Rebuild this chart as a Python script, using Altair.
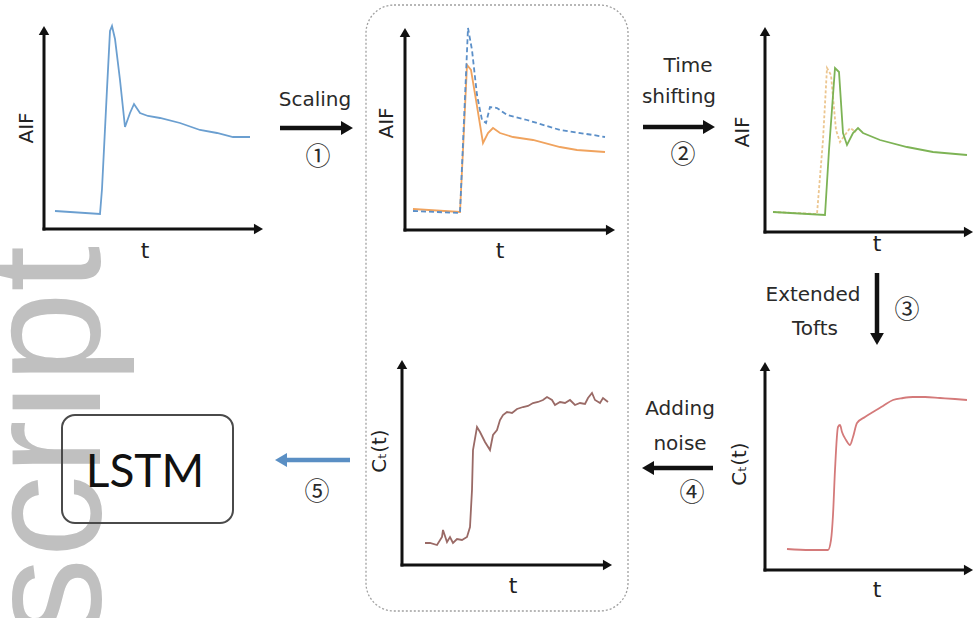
import altair as alt
import pandas as pd

W, H = 976, 618

# ---------------- curve readings (t, value) in each panel's own axis units ----------------
# panel 1: AIF (blue)
p1_t = [11, 56, 58, 60, 63, 66, 68, 71, 76, 81, 86, 90, 96, 104, 116, 136, 156, 173, 189, 206]
p1_v = [18, 15, 40, 80, 140, 198, 203, 190, 149, 102, 116, 125, 116, 113, 111, 106, 99, 96, 92, 92]

# panel 2: scaled AIF (orange) and original AIF (blue dashed)
p2o_t = [8, 55, 58, 62, 66, 71, 78, 83, 88, 95, 108, 128, 155, 172, 200]
p2o_v = [21, 18, 80, 165, 160, 130, 87, 97, 102, 97, 93, 90, 83, 80, 78]
p2b_t = [8, 55, 59, 63, 67, 72, 77, 81, 85, 92, 102, 122, 155, 188, 200]
p2b_v = [19, 17, 110, 202, 180, 135, 110, 107, 123, 122, 115, 110, 100, 95, 93]

# panel 3: time-shifted AIF (green) and unshifted AIF (dashed)
p3g_t = [8, 60, 64, 70, 74, 78, 82, 88, 93, 98, 115, 142, 168, 202]
p3g_v = [20, 17, 82, 164, 160, 99, 87, 99, 104, 99, 92, 85, 80, 77]
p3d_t = [8, 52, 58, 62, 66, 71, 75, 80, 85, 91]
p3d_v = [20, 18, 92, 164, 157, 102, 90, 97, 104, 100]

# panel 4: tissue curve from Extended Tofts (red)
p4_t = [22, 45, 63, 66, 68, 70, 73, 75, 77, 81, 85, 88, 92, 100, 108, 118, 128, 138, 148, 160, 175, 190, 202]
p4_v = [21, 20, 20, 30, 55, 100, 143, 145, 138, 130, 125, 133, 147, 153, 158, 164, 170, 172, 173, 173, 172, 171, 170]

# panel 5: tissue curve with noise (brown)
p5_t = [23, 28, 35, 40, 41, 45, 48, 51, 55, 60, 65, 68, 70, 71, 75, 78, 83, 88, 91, 95, 98, 101,
        105, 110, 115, 121, 126, 131, 136, 141, 145, 150, 153, 158, 163, 168, 173, 178, 183, 186,
        190, 193, 198, 201, 206]
p5_v = [22, 22, 20, 28, 35, 23, 28, 22, 26, 25, 28, 38, 75, 115, 138, 133, 123, 115, 130, 135, 145, 150,
        153, 152, 156, 158, 159, 162, 163, 165, 168, 165, 160, 163, 162, 165, 160, 162, 161, 167,
        172, 165, 162, 167, 163]

# ---------------- layout of panels: origin x, origin y, y-axis tip, x-axis tip ----------------
frames = {
    "p1": (44, 229, 26, 263),
    "p2": (405, 230, 28, 615),
    "p3": (765, 232, 27, 973),
    "p4": (765, 570, 362, 973),
    "p5": (402, 565, 360, 612),
}

series = [
    ("p1", p1_t, p1_v, "#6b9fd0", None),
    ("p2", p2o_t, p2o_v, "#f0a35e", None),
    ("p2", p2b_t, p2b_v, "#5b8fc8", [5, 3]),
    ("p3", p3d_t, p3d_v, "#ecc690", [3, 2]),
    ("p3", p3g_t, p3g_v, "#7db355", None),
    ("p4", p4_t, p4_v, "#d47a7a", None),
    ("p5", p5_t, p5_v, "#9a6a66", None),
]

XS = alt.Scale(domain=[0, W], range=[0, W], nice=False, zero=False)
YS = alt.Scale(domain=[0, H], range=[0, H], nice=False, zero=False)


def xy(**kw):
    enc = dict(
        x=alt.X("x:Q", scale=XS, axis=None),
        y=alt.Y("y:Q", scale=YS, axis=None),
    )
    enc.update(kw)
    return enc


layers = []

# watermark
wm = pd.DataFrame({"x": [100], "y": [246], "text": ["script"]})
layers.append(
    alt.Chart(wm).mark_text(angle=270, align="right", baseline="alphabetic", fontSize=165,
                            font="Liberation Sans", color="#c0c0c0")
    .encode(**xy(text="text:N"))
)

# dashed rounded group box and LSTM box
boxes = pd.DataFrame({"x": [366], "x2": [628], "y": [5], "y2": [611]})
layers.append(
    alt.Chart(boxes).mark_rect(cornerRadius=28, fillOpacity=0, stroke="#a0a0a0",
                               strokeDash=[2, 2], strokeWidth=1.3)
    .encode(**xy(x2="x2:Q", y2="y2:Q"))
)
lstm_box = pd.DataFrame({"x": [62], "x2": [233], "y": [415], "y2": [523]})
layers.append(
    alt.Chart(lstm_box).mark_rect(cornerRadius=13, fillOpacity=0, stroke="#4a4a4a", strokeWidth=2)
    .encode(**xy(x2="x2:Q", y2="y2:Q"))
)

# curves
for k, (p, ts, vs, col, dash) in enumerate(series):
    ox, oy, _, _ = frames[p]
    df = pd.DataFrame({"x": [ox + t for t in ts], "y": [oy - v for v in vs], "i": range(len(ts))})
    kw = dict(color=col, strokeWidth=1.8)
    if dash:
        kw["strokeDash"] = dash
    if p == "p4":
        kw["interpolate"] = "monotone"
    layers.append(alt.Chart(df).mark_line(**kw).encode(**xy(order="i:Q")))

# axes
ax_rows, heads = [], []
for p, (ox, oy, top, right) in frames.items():
    ax_rows.append({"x": ox, "x2": ox, "y": oy + 1.5, "y2": top + 6})
    ax_rows.append({"x": ox - 1.5, "x2": right - 6, "y": oy, "y2": oy})
    heads.append({"x": ox, "y": top + 4.5, "shape": "triangle-up"})
    heads.append({"x": right - 4.5, "y": oy, "shape": "triangle-right"})
layers.append(
    alt.Chart(pd.DataFrame(ax_rows)).mark_rule(color="#111111", strokeWidth=3)
    .encode(**xy(x2="x2:Q", y2="y2:Q"))
)
layers.append(
    alt.Chart(pd.DataFrame(heads)).mark_point(filled=True, size=110, color="#111111", opacity=1)
    .encode(**xy(shape=alt.Shape("shape:N", scale=None)))
)

# process arrows
arrows = pd.DataFrame([
    {"x": 280, "x2": 346, "y": 128, "y2": 128, "c": "#111111"},
    {"x": 643, "x2": 708, "y": 127, "y2": 127, "c": "#111111"},
    {"x": 877, "x2": 877, "y": 273, "y2": 338, "c": "#111111"},
    {"x": 713, "x2": 649, "y": 468, "y2": 468, "c": "#111111"},
    {"x": 350, "x2": 282, "y": 460, "y2": 460, "c": "#5a8fc4"},
])
arrow_heads = pd.DataFrame([
    {"x": 347, "y": 128, "shape": "triangle-right", "c": "#111111"},
    {"x": 709, "y": 127, "shape": "triangle-right", "c": "#111111"},
    {"x": 877, "y": 339, "shape": "triangle-down", "c": "#111111"},
    {"x": 648, "y": 468, "shape": "triangle-left", "c": "#111111"},
    {"x": 281, "y": 460, "shape": "triangle-left", "c": "#5a8fc4"},
])
layers.append(
    alt.Chart(arrows).mark_rule(strokeWidth=4.5)
    .encode(**xy(x2="x2:Q", y2="y2:Q", color=alt.Color("c:N", scale=None)))
)
layers.append(
    alt.Chart(arrow_heads).mark_point(filled=True, size=190, opacity=1)
    .encode(**xy(shape=alt.Shape("shape:N", scale=None), color=alt.Color("c:N", scale=None)))
)

# step labels
step_text = ["Scaling", "Time", "shifting", "Extended", "Tofts", "Adding", "noise"]
step_x = [315, 688, 679, 813, 815, 680, 680]
step_y = [106, 72, 103, 301, 335, 415, 450]
layers.append(
    alt.Chart(pd.DataFrame({"x": step_x, "y": step_y, "text": step_text}))
    .mark_text(font="DejaVu Sans", fontSize=20, color="#2a2a2a", align="center", baseline="alphabetic")
    .encode(**xy(text="text:N"))
)

# circled step numbers
num_text = ["①", "②", "③", "④", "⑤"]
num_x = [318, 683, 907, 692, 317]
num_y = [157, 155, 310, 493, 492]
layers.append(
    alt.Chart(pd.DataFrame({"x": num_x, "y": num_y, "text": num_text}))
    .mark_text(font="Noto Sans CJK JP", fontSize=25, color="#2a2a2a", align="center", baseline="middle")
    .encode(**xy(text="text:N"))
)

# axis titles
t_x = [145, 500, 877, 877, 513]
t_y = [258, 258, 251, 597, 593]
layers.append(
    alt.Chart(pd.DataFrame({"x": t_x, "y": t_y, "text": ["t"] * 5}))
    .mark_text(font="DejaVu Sans", fontSize=22, color="#222222", align="center", baseline="alphabetic")
    .encode(**xy(text="text:N"))
)
ylab_text = ["AIF", "AIF", "AIF", "Cₜ(t)", "Cₜ(t)"]
ylab_x = [27, 387, 743, 740, 380]
ylab_y = [128, 123, 132, 464, 451]
layers.append(
    alt.Chart(pd.DataFrame({"x": ylab_x, "y": ylab_y, "text": ylab_text}))
    .mark_text(font="DejaVu Sans", fontSize=20, color="#222222", align="center", baseline="middle", angle=270)
    .encode(**xy(text="text:N"))
)

# LSTM label
layers.append(
    alt.Chart(pd.DataFrame({"x": [145], "y": [487], "text": ["LSTM"]}))
    .mark_text(font="Lato", fontSize=46, color="#111111", align="center", baseline="alphabetic")
    .encode(**xy(text="text:N"))
)

chart = (
    alt.layer(*layers)
    .properties(width=W, height=H, padding=0, autosize=alt.AutoSizeParams(type="none"))
    .configure_view(strokeWidth=0)
)

chart.save("out.html", embed_options={"renderer": "svg", "actions": False})
